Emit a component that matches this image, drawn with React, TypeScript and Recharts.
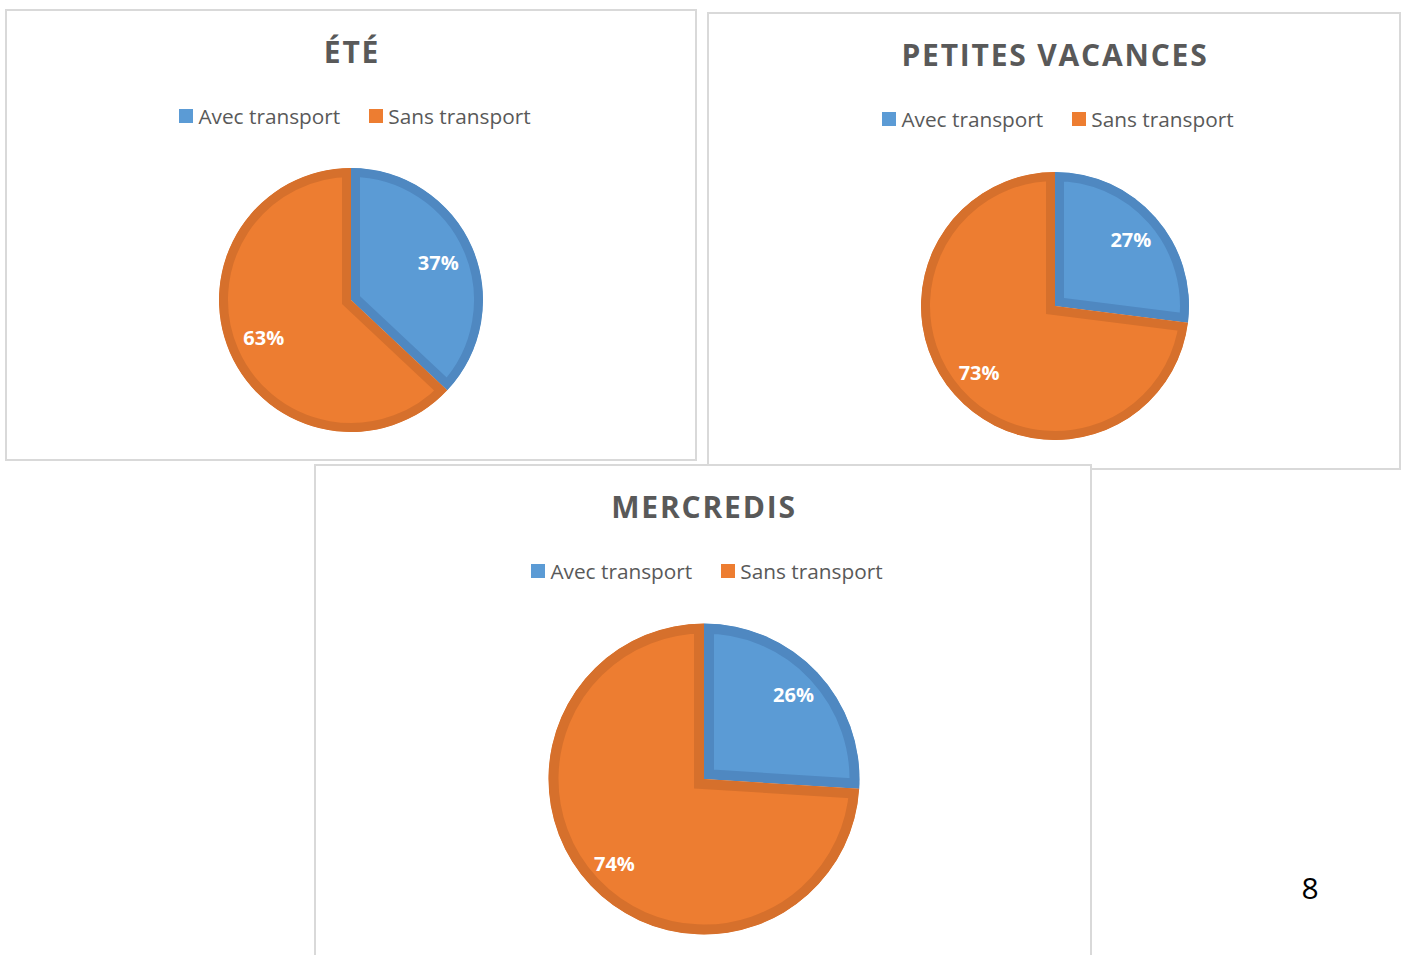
import React from 'react';
import { PieChart, Pie, Cell, Sector } from 'recharts';

// ---------- data ----------
const categories = ['Avec transport', 'Sans transport'];
const eteValues = [37, 63];
const petitesVacancesValues = [27, 73];
const mercredisValues = [26, 74];
const chartTitles = ['ÉTÉ', 'PETITES VACANCES', 'MERCREDIS'];
const pageNumber = '8';

// ---------- styles ----------
const FILLS = ['#5B9BD5', '#ED7D31'];
const STROKES = ['#4F88C1', '#D6702C'];
const FONT = '"Open Sans", "Noto Sans", sans-serif';
const TEXT_COLOR = '#595959';
const BORDER_COLOR = '#D9D9D9';
const RAD = Math.PI / 180;

function makeShape(id: string, bandWidth: number) {
  return (props: any) => {
    const { cx, cy, innerRadius, outerRadius, startAngle, endAngle, index } = props;
    const i = typeof index === 'number' ? index : FILLS.indexOf(props.fill);
    const clipId = `${id}-clip-${i}`;
    return (
      <g>
        <defs>
          <clipPath id={clipId}>
            <Sector
              cx={cx}
              cy={cy}
              innerRadius={innerRadius}
              outerRadius={outerRadius}
              startAngle={startAngle}
              endAngle={endAngle}
            />
          </clipPath>
        </defs>
        <Sector
          cx={cx}
          cy={cy}
          innerRadius={innerRadius}
          outerRadius={outerRadius}
          startAngle={startAngle}
          endAngle={endAngle}
          fill={FILLS[i]}
          stroke={STROKES[i]}
          strokeWidth={bandWidth * 2}
          clipPath={`url(#${clipId})`}
        />
      </g>
    );
  };
}

function makeLabel(factor: number) {
  return (props: any) => {
    const { cx, cy, midAngle, outerRadius, percent } = props;
    const r = outerRadius * factor;
    const x = cx + r * Math.cos(-midAngle * RAD);
    const y = cy + r * Math.sin(-midAngle * RAD);
    return (
      <text
        x={x}
        y={y}
        fill="#FFFFFF"
        textAnchor="middle"
        dominantBaseline="central"
        fontFamily={FONT}
        fontSize={20}
        fontWeight={700}
      >
        {`${Math.round(percent * 100)}%`}
      </text>
    );
  };
}

type PanelProps = {
  id: string;
  left: number;
  top: number;
  width: number;
  height: number;
  title: string;
  values: number[];
  cx: number;
  cy: number;
  radius: number;
  band: number;
  labelFactor: number;
};

function Panel(p: PanelProps) {
  const data = categories.map((name, i) => ({ name, value: p.values[i] }));
  return (
    <div
      style={{
        position: 'absolute',
        left: p.left,
        top: p.top,
        width: p.width,
        height: p.height,
        background: '#FFFFFF',
      }}
    >
      <div
        style={{
          position: 'absolute',
          left: 0,
          top: 0,
          width: p.width,
          height: p.height,
          border: `2px solid ${BORDER_COLOR}`,
          boxSizing: 'border-box',
        }}
      />
      <div
        style={{
          position: 'absolute',
          left: 1,
          top: 23,
          width: p.width,
          textAlign: 'center',
          fontFamily: FONT,
          fontSize: 30,
          fontWeight: 700,
          letterSpacing: 1.8,
          lineHeight: '40px',
          color: TEXT_COLOR,
          whiteSpace: 'nowrap',
        }}
      >
        {p.title}
      </div>
      <div
        style={{
          position: 'absolute',
          left: 4,
          top: 95,
          width: p.width,
          display: 'flex',
          justifyContent: 'center',
          fontFamily: FONT,
          fontSize: 20.8,
          lineHeight: '24px',
          color: TEXT_COLOR,
          whiteSpace: 'nowrap',
        }}
      >
        {categories.map((c, i) => (
          <div
            key={c}
            style={{ display: 'flex', alignItems: 'center', marginLeft: i === 0 ? 0 : 29 }}
          >
            <span
              style={{
                display: 'inline-block',
                width: 14,
                height: 14,
                background: FILLS[i],
                marginRight: 5,
              }}
            />
            <span>{c}</span>
          </div>
        ))}
      </div>
      <div style={{ position: 'absolute', left: 0, top: 0 }}>
        <PieChart
          width={p.width}
          height={p.height}
          margin={{ top: 0, right: 0, bottom: 0, left: 0 }}
        >
          <Pie
            data={data}
            dataKey="value"
            nameKey="name"
            cx={p.cx}
            cy={p.cy}
            outerRadius={p.radius}
            innerRadius={0}
            startAngle={90}
            endAngle={-270}
            isAnimationActive={false}
            labelLine={false}
            label={makeLabel(p.labelFactor)}
            shape={makeShape(p.id, p.band) as any}
            stroke="none"
          >
            {data.map((d, i) => (
              <Cell key={d.name} fill={FILLS[i]} stroke={STROKES[i]} />
            ))}
          </Pie>
        </PieChart>
      </div>
    </div>
  );
}

export default function App() {
  return (
    <div
      style={{
        position: 'absolute',
        left: 0,
        top: 0,
        width: 1406,
        height: 955,
        overflow: 'hidden',
        background: '#FFFFFF',
      }}
    >
      <Panel
        id="ete"
        left={5}
        top={9}
        width={692}
        height={452}
        title={chartTitles[0]}
        values={eteValues}
        cx={346}
        cy={291}
        radius={132}
        band={9}
        labelFactor={0.72}
      />
      <Panel
        id="pv"
        left={707}
        top={12}
        width={694}
        height={458}
        title={chartTitles[1]}
        values={petitesVacancesValues}
        cx={348}
        cy={294}
        radius={134}
        band={9}
        labelFactor={0.755}
      />
      <Panel
        id="merc"
        left={314}
        top={464}
        width={778}
        height={500}
        title={chartTitles[2]}
        values={mercredisValues}
        cx={390}
        cy={315}
        radius={155.5}
        band={10}
        labelFactor={0.79}
      />
      <div
        style={{
          position: 'absolute',
          left: 1290,
          top: 868,
          width: 40,
          textAlign: 'center',
          fontFamily: FONT,
          fontSize: 30,
          lineHeight: '40px',
          color: '#000000',
        }}
      >
        {pageNumber}
      </div>
    </div>
  );
}
